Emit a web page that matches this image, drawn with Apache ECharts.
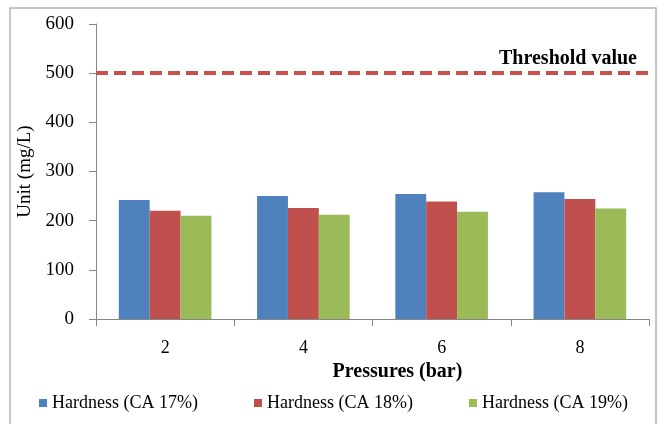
<!DOCTYPE html>
<html>
<head>
<meta charset="utf-8">
<script src="https://cdn.jsdelivr.net/npm/echarts@6/dist/echarts.min.js"></script>
<style>
html,body{margin:0;padding:0;background:#fff;}
#chart{width:671px;height:424px;}
</style>
</head>
<body>
<div id="chart"></div>
<script>
var categories = ['2', '4', '6', '8'];
var seriesNames = ['Hardness (CA 17%)', 'Hardness (CA 18%)', 'Hardness (CA 19%)'];
var ca17 = [242, 250, 254, 258];
var ca18 = [220, 226, 239, 244];
var ca19 = [210, 212, 218, 225];
var thresholdValue = 500;
var thresholdLabel = 'Threshold value';
var yTicks = [0, 100, 200, 300, 400, 500, 600];

var colors = ['#4F81BD', '#C0504D', '#9BBB59'];
var serif = 'Liberation Serif';
var values = [ca17, ca18, ca19];

var series = values.map(function (v, i) {
  var s = {
    name: seriesNames[i],
    type: 'bar',
    data: v,
    barGap: '0%',
    barCategoryGap: '33%',
    itemStyle: { color: colors[i] }
  };
  if (i === 0) {
    s.markLine = {
      silent: true,
      symbol: ['none', 'none'],
      data: [{ yAxis: thresholdValue }],
      lineStyle: { color: '#C9504D', width: 4, type: [12, 6] },
      label: {
        show: true,
        position: 'insideEndTop',
        formatter: thresholdLabel,
        fontFamily: serif,
        fontWeight: 'bold',
        fontSize: 20,
        color: '#000',
        distance: [12, 4]
      }
    };
  }
  return s;
});

var chart = echarts.init(document.getElementById('chart'), null, { renderer: 'canvas' });
chart.setOption({
  animation: false,
  backgroundColor: '#fff',
  textStyle: { fontFamily: serif },
  graphic: [{
    type: 'rect',
    shape: { x: 10, y: 8, width: 646, height: 440 },
    style: { fill: 'none', stroke: '#b4b4b4', lineWidth: 1.5 },
    z: -1
  }],
  grid: { left: 96, right: 22, top: 24, bottom: 105, containLabel: false },
  legend: {
    data: seriesNames,
    left: 34,
    top: 389,
    icon: 'rect',
    itemWidth: 8,
    itemHeight: 8,
    itemGap: 56,
    textStyle: { fontFamily: serif, fontSize: 18, color: '#000' }
  },
  xAxis: {
    type: 'category',
    data: categories,
    name: 'Pressures (bar)',
    nameLocation: 'middle',
    nameGap: 42,
    nameTextStyle: { fontFamily: serif, fontWeight: 'bold', fontSize: 20, color: '#000', padding: [0, 0, 0, 50] },
    axisLine: { show: true, lineStyle: { color: '#868686' } },
    axisTick: { show: true, alignWithLabel: false, length: 7, lineStyle: { color: '#868686' } },
    axisLabel: { fontFamily: serif, fontSize: 18, color: '#000', margin: 20 },
    splitLine: { show: false }
  },
  yAxis: {
    type: 'value',
    min: yTicks[0],
    max: yTicks[yTicks.length - 1],
    interval: 100,
    name: 'Unit (mg/L)',
    nameLocation: 'middle',
    nameRotate: 90,
    nameGap: 60,
    nameTextStyle: { fontFamily: serif, fontSize: 19, color: '#000' },
    axisLine: { show: true, lineStyle: { color: '#868686' } },
    axisTick: { show: true, length: 7, lineStyle: { color: '#868686' } },
    axisLabel: { fontFamily: serif, fontSize: 19, color: '#000', margin: 22 },
    splitLine: { show: false }
  },
  series: series
});
</script>
</body>
</html>
